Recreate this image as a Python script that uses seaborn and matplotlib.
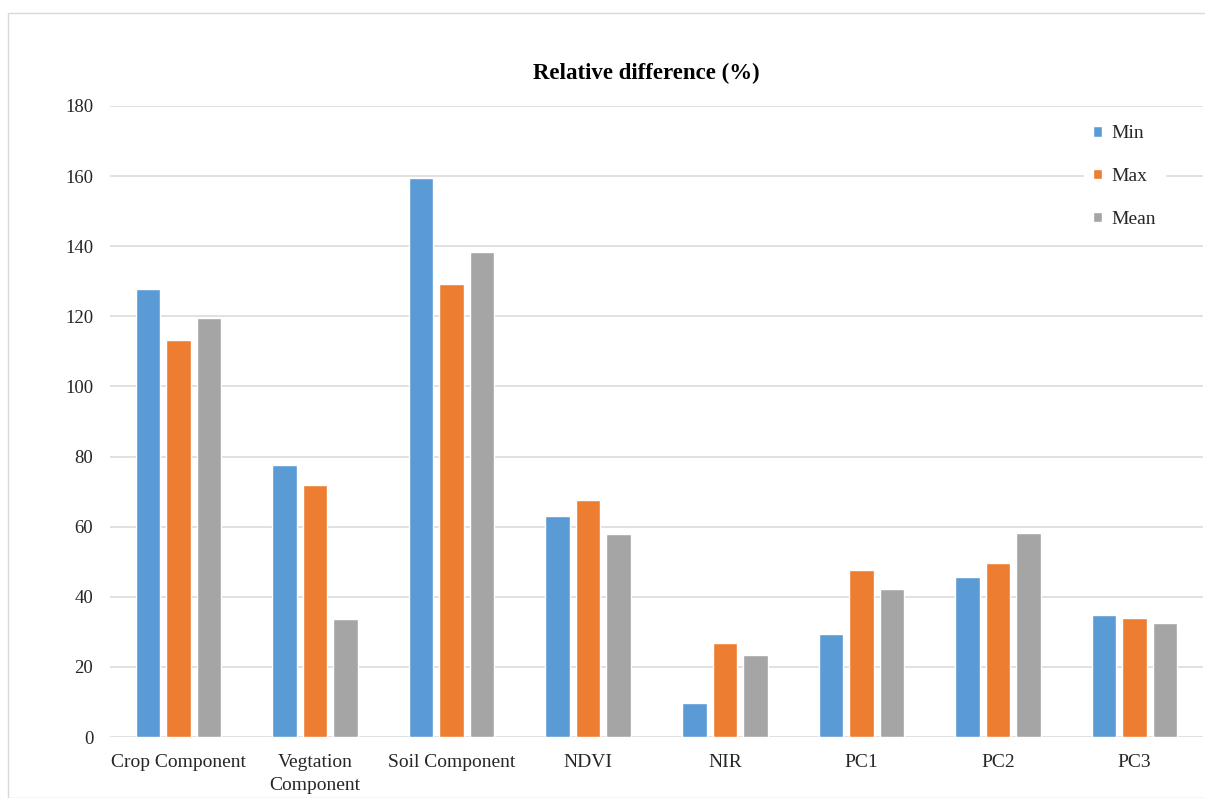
import matplotlib
matplotlib.use("Agg")
import matplotlib.pyplot as plt
import seaborn as sns
import pandas as pd
from matplotlib.patches import Rectangle

categories = ["Crop Component", "Vegtation\nComponent", "Soil Component", "NDVI",
              "NIR", "PC1", "PC2", "PC3"]
min_vals = [127.8, 77.6, 159.5, 63.0, 9.6, 29.3, 45.6, 34.9]
max_vals = [113.2, 72.0, 129.2, 67.7, 26.7, 47.6, 49.7, 33.9]
mean_vals = [119.6, 33.8, 138.4, 57.9, 23.3, 42.3, 58.3, 32.4]
series = ["Min", "Max", "Mean"]
colors = ["#5B9BD5", "#ED7D31", "#A5A5A5"]
yticks = [0, 20, 40, 60, 80, 100, 120, 140, 160, 180]

rows = []
for name, vals in zip(series, [min_vals, max_vals, mean_vals]):
    for c, v in zip(categories, vals):
        rows.append({"category": c, "series": name, "value": v})
df = pd.DataFrame(rows)

sns.set_theme(style="white")
plt.rcParams["font.family"] = ["Liberation Serif", "DejaVu Serif"]

fig = plt.figure(figsize=(12.05, 7.98), dpi=100)
ax = fig.add_axes([110/1205, 1-737/798, (1203-110)/1205, (737-106)/798])

sns.barplot(data=df, x="category", y="value", hue="series", order=categories,
            hue_order=series, palette=colors, width=0.67, gap=0.2,
            saturation=1, ax=ax, zorder=3)

ax.set_ylim(0, 180)
ax.set_xlim(-0.5, len(categories) - 0.5)
ax.set_yticks(yticks)
ax.set_yticklabels([str(t) for t in yticks], fontsize=13.5)
ax.tick_params(axis="x", labelsize=14, length=0, pad=12)
ax.tick_params(axis="y", length=0, pad=12)
for lab in ax.get_xticklabels() + ax.get_yticklabels():
    lab.set_color("#262626")
    lab.set_linespacing(1.45)
ax.set_xlabel("")
ax.set_ylabel("")
ax.yaxis.grid(True, color="#D9D9D9", linewidth=1.1, zorder=0)
ax.set_axisbelow(True)
for s in ax.spines.values():
    s.set_visible(False)

fig.text(646/1205, 1-73/798, "Relative difference (%)", fontsize=16.5,
         fontweight="bold", color="#000000", ha="center", va="center")

leg = ax.legend(loc="upper left", bbox_to_anchor=((1074-110)/1093, 1.0),
                frameon=True, fontsize=14, handlelength=0.45, handleheight=0.45,
                handletextpad=0.45, labelspacing=1.32, borderpad=0.5,
                facecolor="white", edgecolor="white", framealpha=1)
for t in leg.get_texts():
    t.set_color("#262626")

fig.patches.append(Rectangle((8/1205, 0), 1.2, 1-13/798, transform=fig.transFigure,
                             fill=False, edgecolor="#D9D9D9", linewidth=1.0))

fig.savefig("out.png", dpi=100)
